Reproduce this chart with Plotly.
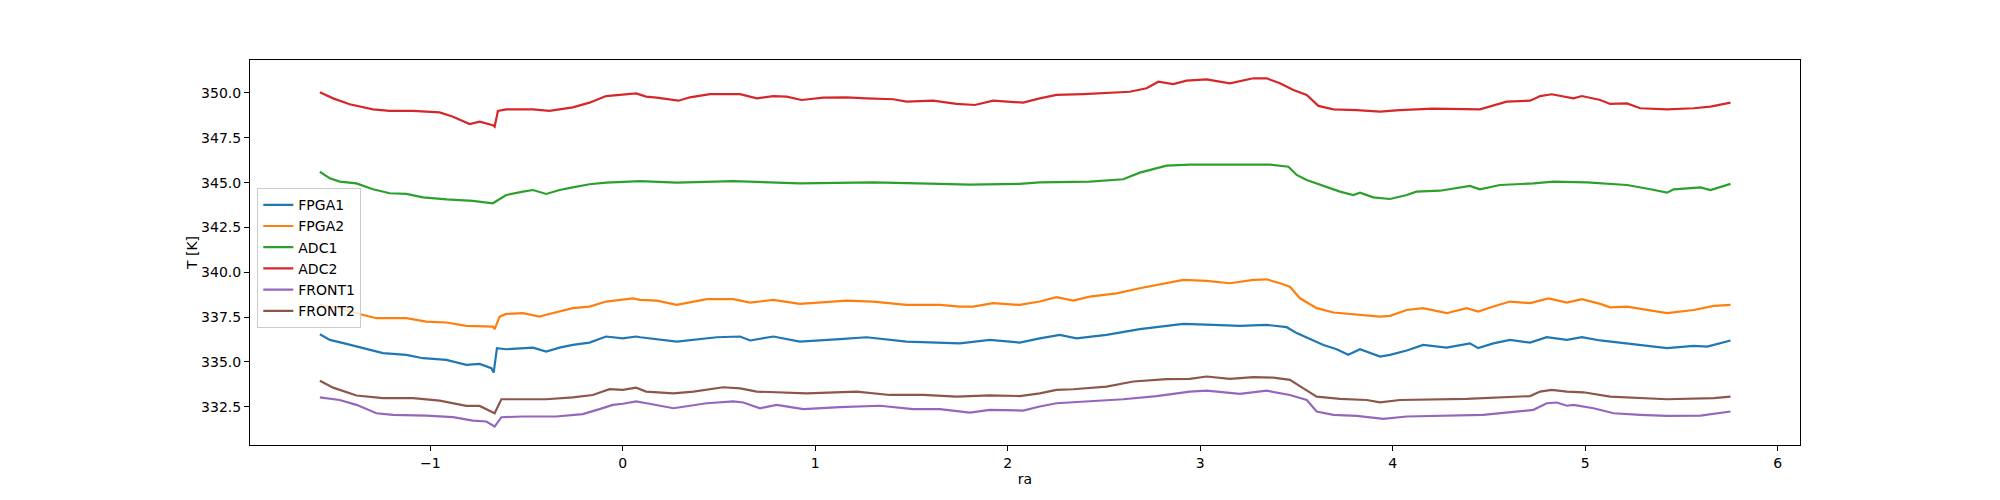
import plotly.graph_objects as go

# (ra, T[K]) pairs
fpga1 = [(-1.574, 336.55), (-1.522, 336.23), (-1.436, 336.01), (-1.332, 335.71), (-1.246, 335.49), (-1.125, 335.40),
         (-1.038, 335.21), (-0.917, 335.12), (-0.813, 334.84), (-0.744, 334.89), (-0.683, 334.65), (-0.671, 334.41),
         (-0.654, 335.77), (-0.606, 335.71), (-0.467, 335.80), (-0.398, 335.58), (-0.329, 335.80), (-0.260, 335.95),
         (-0.173, 336.08), (-0.087, 336.42), (0.0, 336.32), (0.069, 336.42), (0.090, 336.38), (0.280, 336.14),
         (0.488, 336.38), (0.609, 336.42), (0.661, 336.20), (0.782, 336.42), (0.920, 336.14), (1.128, 336.27),
         (1.266, 336.38), (1.474, 336.14), (1.612, 336.08), (1.751, 336.04), (1.907, 336.23), (2.062, 336.08),
         (2.166, 336.32), (2.270, 336.51), (2.357, 336.32), (2.513, 336.51), (2.686, 336.83), (2.825, 337.03),
         (2.912, 337.12), (3.068, 337.07), (3.206, 337.01), (3.345, 337.07), (3.449, 336.94), (3.501, 336.61),
         (3.570, 336.27), (3.640, 335.95), (3.709, 335.71), (3.769, 335.40), (3.830, 335.71), (3.934, 335.30),
         (3.986, 335.40), (4.073, 335.64), (4.158, 335.95), (4.280, 335.80), (4.401, 336.04), (4.444, 335.77),
         (4.523, 336.04), (4.609, 336.23), (4.714, 336.08), (4.800, 336.38), (4.905, 336.23), (4.983, 336.38),
         (5.078, 336.20), (5.217, 336.04), (5.339, 335.86), (5.425, 335.77), (5.564, 335.90), (5.634, 335.86),
         (5.755, 336.20)]

fpga2 = [(-1.574, 338.18), (-1.471, 338.00), (-1.384, 337.72), (-1.280, 337.44), (-1.125, 337.44), (-1.021, 337.25),
         (-0.917, 337.20), (-0.813, 337.01), (-0.675, 336.97), (-0.666, 336.83), (-0.640, 337.53), (-0.606, 337.68),
         (-0.519, 337.72), (-0.433, 337.53), (-0.398, 337.63), (-0.329, 337.81), (-0.260, 338.00), (-0.173, 338.09),
         (-0.087, 338.37), (0.052, 338.55), (0.090, 338.46), (0.176, 338.42), (0.280, 338.18), (0.436, 338.50),
         (0.574, 338.50), (0.661, 338.31), (0.782, 338.46), (0.920, 338.24), (1.042, 338.31), (1.163, 338.42),
         (1.301, 338.37), (1.474, 338.18), (1.647, 338.18), (1.751, 338.09), (1.820, 338.09), (1.924, 338.28),
         (2.062, 338.18), (2.166, 338.37), (2.253, 338.61), (2.340, 338.42), (2.426, 338.64), (2.565, 338.83),
         (2.686, 339.11), (2.790, 339.33), (2.912, 339.58), (3.033, 339.52), (3.154, 339.39), (3.276, 339.58),
         (3.345, 339.61), (3.414, 339.39), (3.466, 339.20), (3.518, 338.55), (3.605, 338.00), (3.692, 337.76),
         (3.813, 337.63), (3.934, 337.53), (3.986, 337.57), (4.073, 337.90), (4.158, 338.00), (4.280, 337.72),
         (4.384, 338.00), (4.444, 337.81), (4.523, 338.09), (4.609, 338.37), (4.714, 338.28), (4.809, 338.55),
         (4.905, 338.31), (4.983, 338.50), (5.078, 338.24), (5.130, 338.05), (5.217, 338.09), (5.339, 337.86),
         (5.425, 337.72), (5.564, 337.90), (5.668, 338.13), (5.755, 338.18)]

adc1 = [(-1.574, 345.61), (-1.522, 345.24), (-1.471, 345.06), (-1.384, 344.96), (-1.298, 344.63), (-1.211, 344.41),
        (-1.125, 344.37), (-1.038, 344.18), (-0.917, 344.07), (-0.779, 343.98), (-0.675, 343.85), (-0.649, 344.04),
        (-0.606, 344.31), (-0.519, 344.50), (-0.467, 344.59), (-0.398, 344.37), (-0.329, 344.59), (-0.260, 344.74),
        (-0.173, 344.91), (-0.087, 345.00), (0.0, 345.06), (0.090, 345.09), (0.280, 345.00), (0.574, 345.09),
        (0.920, 344.96), (1.301, 345.02), (1.647, 344.93), (1.803, 344.89), (2.062, 344.93), (2.166, 345.02),
        (2.426, 345.06), (2.600, 345.19), (2.686, 345.56), (2.756, 345.75), (2.825, 345.95), (2.946, 346.01),
        (3.120, 346.01), (3.362, 346.01), (3.458, 345.89), (3.501, 345.43), (3.553, 345.15), (3.657, 344.78),
        (3.726, 344.50), (3.795, 344.31), (3.830, 344.44), (3.899, 344.18), (3.986, 344.09), (4.073, 344.31),
        (4.123, 344.50), (4.245, 344.55), (4.401, 344.82), (4.453, 344.63), (4.557, 344.87), (4.731, 344.96),
        (4.835, 345.06), (5.009, 345.02), (5.217, 344.87), (5.339, 344.63), (5.425, 344.44), (5.460, 344.63),
        (5.599, 344.74), (5.651, 344.59), (5.755, 344.93)]

adc2 = [(-1.574, 350.04), (-1.505, 349.70), (-1.419, 349.37), (-1.298, 349.09), (-1.211, 349.00), (-1.090, 349.00),
        (-0.952, 348.92), (-0.882, 348.68), (-0.796, 348.27), (-0.744, 348.40), (-0.675, 348.20), (-0.666, 348.12),
        (-0.649, 349.00), (-0.606, 349.09), (-0.467, 349.09), (-0.381, 349.00), (-0.260, 349.20), (-0.173, 349.46),
        (-0.087, 349.83), (0.0, 349.93), (0.069, 349.98), (0.121, 349.80), (0.176, 349.74), (0.289, 349.57),
        (0.349, 349.76), (0.453, 349.94), (0.609, 349.94), (0.696, 349.70), (0.782, 349.83), (0.851, 349.80),
        (0.929, 349.61), (1.042, 349.74), (1.163, 349.76), (1.266, 349.70), (1.405, 349.65), (1.474, 349.52),
        (1.612, 349.57), (1.734, 349.39), (1.829, 349.33), (1.924, 349.57), (1.993, 349.52), (2.080, 349.46),
        (2.166, 349.70), (2.253, 349.89), (2.392, 349.94), (2.548, 350.02), (2.634, 350.07), (2.721, 350.26),
        (2.782, 350.63), (2.860, 350.50), (2.929, 350.69), (3.033, 350.76), (3.154, 350.54), (3.276, 350.82),
        (3.345, 350.82), (3.414, 350.54), (3.484, 350.17), (3.553, 349.89), (3.614, 349.28), (3.692, 349.09),
        (3.813, 349.05), (3.934, 348.96), (4.036, 349.05), (4.210, 349.13), (4.349, 349.13), (4.453, 349.09),
        (4.592, 349.52), (4.714, 349.57), (4.766, 349.83), (4.826, 349.93), (4.939, 349.70), (4.983, 349.83),
        (5.078, 349.61), (5.130, 349.39), (5.217, 349.42), (5.286, 349.15), (5.425, 349.09), (5.564, 349.15),
        (5.651, 349.24), (5.755, 349.46)]

front1 = [(-1.574, 333.03), (-1.471, 332.88), (-1.384, 332.61), (-1.280, 332.14), (-1.194, 332.05), (-1.021, 332.01),
          (-0.882, 331.92), (-0.779, 331.73), (-0.709, 331.68), (-0.666, 331.40), (-0.631, 331.92), (-0.519, 331.96),
          (-0.346, 331.96), (-0.208, 332.09), (-0.121, 332.37), (-0.052, 332.61), (0.0, 332.67), (0.069, 332.80),
          (0.138, 332.67), (0.263, 332.42), (0.436, 332.70), (0.574, 332.80), (0.626, 332.74), (0.713, 332.42),
          (0.799, 332.61), (0.938, 332.37), (1.128, 332.48), (1.336, 332.56), (1.509, 332.37), (1.647, 332.37),
          (1.803, 332.18), (1.907, 332.33), (2.080, 332.29), (2.166, 332.52), (2.253, 332.70), (2.426, 332.80),
          (2.600, 332.92), (2.773, 333.10), (2.946, 333.35), (3.033, 333.40), (3.206, 333.22), (3.345, 333.40),
          (3.466, 333.16), (3.553, 332.88), (3.605, 332.24), (3.692, 332.05), (3.813, 331.99), (3.951, 331.83),
          (4.073, 331.96), (4.470, 332.05), (4.592, 332.18), (4.731, 332.33), (4.800, 332.70), (4.852, 332.74),
          (4.905, 332.56), (4.939, 332.61), (5.043, 332.42), (5.148, 332.14), (5.286, 332.05), (5.425, 331.99),
          (5.599, 332.01), (5.755, 332.24)]

front2 = [(-1.574, 333.95), (-1.505, 333.57), (-1.384, 333.13), (-1.246, 332.98), (-1.090, 332.98), (-0.952, 332.84),
          (-0.813, 332.55), (-0.744, 332.55), (-0.666, 332.14), (-0.631, 332.92), (-0.519, 332.92), (-0.398, 332.92),
          (-0.260, 333.03), (-0.156, 333.16), (-0.069, 333.48), (0.0, 333.44), (0.069, 333.57), (0.121, 333.35),
          (0.263, 333.25), (0.367, 333.35), (0.522, 333.59), (0.609, 333.53), (0.696, 333.35), (0.869, 333.29),
          (0.955, 333.25), (1.215, 333.35), (1.388, 333.16), (1.561, 333.16), (1.734, 333.07), (1.907, 333.14),
          (2.062, 333.10), (2.166, 333.25), (2.253, 333.44), (2.340, 333.48), (2.513, 333.63), (2.652, 333.91),
          (2.825, 334.04), (2.946, 334.06), (3.033, 334.19), (3.154, 334.06), (3.276, 334.15), (3.380, 334.13),
          (3.466, 334.00), (3.536, 333.53), (3.605, 333.07), (3.726, 332.94), (3.865, 332.88), (3.934, 332.75),
          (4.038, 332.88), (4.384, 332.94), (4.557, 333.03), (4.714, 333.10), (4.766, 333.35), (4.826, 333.44),
          (4.905, 333.35), (4.991, 333.31), (5.130, 333.07), (5.286, 332.98), (5.425, 332.92), (5.668, 332.98),
          (5.755, 333.07)]

series_names = ["FPGA1", "FPGA2", "ADC1", "ADC2", "FRONT1", "FRONT2"]
series_data = [fpga1, fpga2, adc1, adc2, front1, front2]
colors = ["#1f77b4", "#ff7f0e", "#2ca02c", "#d62728", "#9467bd", "#8c564b"]

x_ticks = [-1, 0, 1, 2, 3, 4, 5, 6]
y_ticks = [332.5, 335.0, 337.5, 340.0, 342.5, 345.0, 347.5, 350.0]

FONT = "DejaVu Sans"

fig = go.Figure()
for name, data, col in zip(series_names, series_data, colors):
    fig.add_trace(go.Scatter(
        x=[p[0] for p in data], y=[p[1] for p in data],
        mode="lines", name=name, line=dict(color=col, width=2.2)))

axis_common = dict(showline=True, linecolor="black", linewidth=1, mirror=True,
                   ticks="outside", ticklen=5, tickwidth=1, tickcolor="black",
                   showgrid=False, zeroline=False,
                   tickfont=dict(family=FONT, size=14, color="black"))

# the page body adds an 8px offset, so margins are shifted to compensate
fig.update_layout(
    width=2000, height=500,
    margin=dict(l=242, r=208, t=52, b=63, autoexpand=False),
    paper_bgcolor="white", plot_bgcolor="white",
    font=dict(family=FONT, size=14, color="black"),
    xaxis=dict(range=[-1.937, 6.116], tickvals=x_ticks,
               title=dict(text="ra", standoff=4, font=dict(family=FONT, size=14)),
               **axis_common),
    yaxis=dict(range=[330.37, 351.84], tickvals=y_ticks, tickformat=".1f",
               title=dict(text="T [K]", standoff=0, font=dict(family=FONT, size=14)),
               **axis_common),
    legend=dict(x=0.0047, y=0.667, xanchor="left", yanchor="top",
                bordercolor="#cccccc", borderwidth=1, bgcolor="rgba(255,255,255,0.8)",
                font=dict(family=FONT, size=14, color="black"),
                itemwidth=30, tracegroupgap=0),
    showlegend=True,
)

fig.write_html("out.html")
